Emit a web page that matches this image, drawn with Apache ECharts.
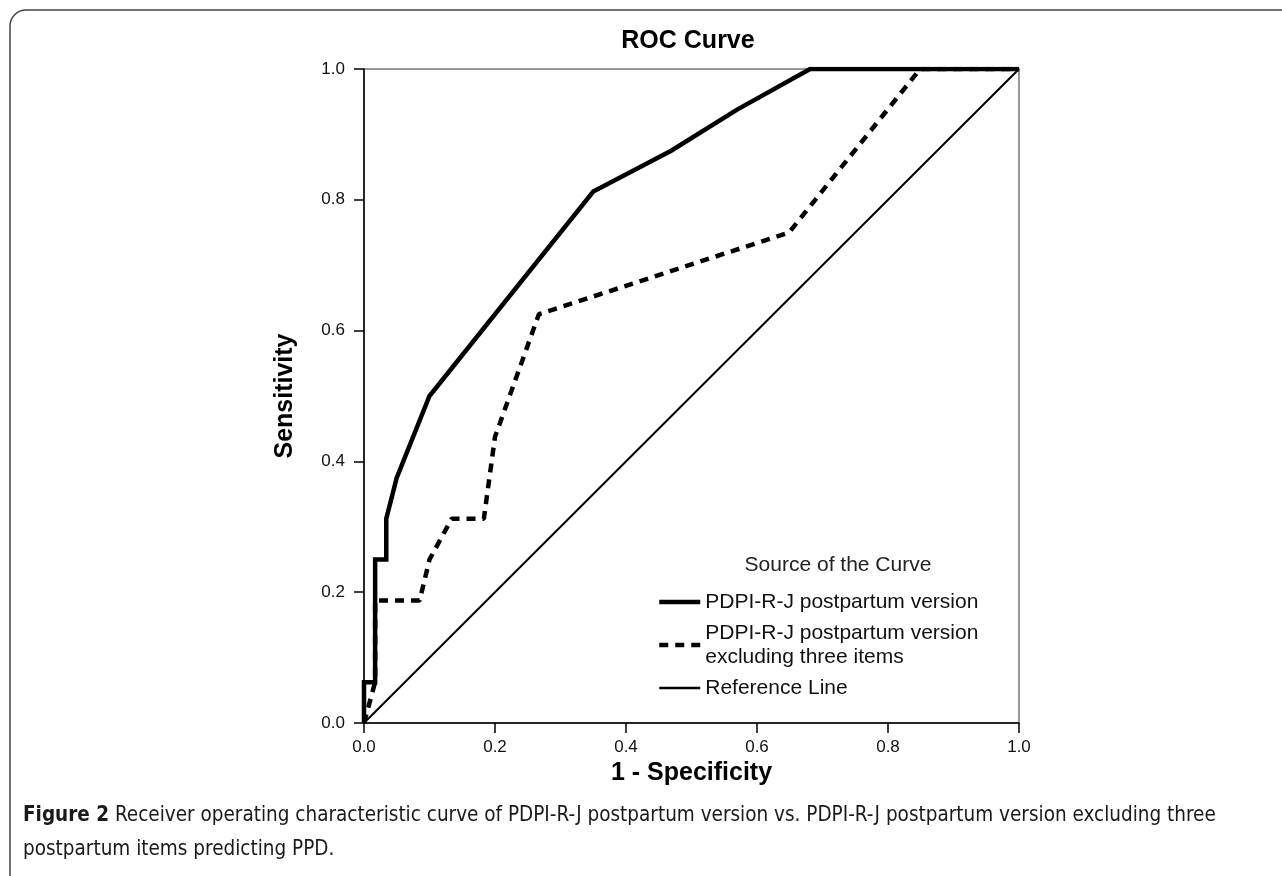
<!DOCTYPE html>
<html><head><meta charset="utf-8">
<script src="https://cdn.jsdelivr.net/npm/echarts@6/dist/echarts.min.js"></script>
<style>html,body{margin:0;padding:0;background:#fff}#c{width:1282px;height:876px}</style>
</head><body><div id="c"></div>
<script>
const xTicks = ['0.0','0.2','0.4','0.6','0.8','1.0'];
const seriesNames = ['PDPI-R-J postpartum version','PDPI-R-J postpartum version\nexcluding three items','Reference Line'];
const fullX = [0, 0, 0.017, 0.017, 0.034, 0.034, 0.05, 0.1, 0.35, 0.469, 0.569, 0.681, 1];
const fullY = [0, 0.0625, 0.0625, 0.25, 0.25, 0.3125, 0.375, 0.5, 0.8125, 0.875, 0.9375, 1, 1];
const exclX = [0, 0.017, 0.017, 0.085, 0.1, 0.134, 0.183, 0.2, 0.267, 0.649, 0.849, 1];
const exclY = [0, 0.0625, 0.1875, 0.1875, 0.25, 0.3125, 0.3125, 0.4375, 0.625, 0.75, 1, 1];
const refX = [0, 1];
const refY = [0, 1];

const zip = (a, b) => a.map((v, i) => [v, b[i]]);
const chart = echarts.init(document.getElementById('c'));
const F = 'Liberation Sans, Arial, sans-serif';
const CF = 'Liberation Sans Narrow, DejaVu Sans Condensed, Roboto Condensed, sans-serif';
chart.setOption({
  animation: false,
  backgroundColor: '#fff',
  title: [
    { text: 'ROC Curve', left: 683, top: 24, textAlign: 'center',
      textStyle: { fontFamily: F, fontSize: 25, fontWeight: 'bold', color: '#000' } },
    { text: 'Source of the Curve', left: 833, top: 550, textAlign: 'center',
      textStyle: { fontFamily: F, fontSize: 21, fontWeight: 'normal', color: '#222' } },
    { text: '{b|Figure 2} Receiver operating characteristic curve of PDPI-R-J postpartum version vs. PDPI-R-J postpartum version excluding three\npostpartum items predicting PPD.',
      left: 18, top: 794,
      textStyle: { fontFamily: CF, fontSize: 20.5, fontWeight: 'normal', lineHeight: 34, color: '#1a1a1a',
        rich: { b: { fontFamily: CF, fontSize: 20.5, fontWeight: 'bold', color: '#1a1a1a', lineHeight: 34 } } } }
  ],
  graphic: [
    { type: 'rect', shape: { x: 10, y: 10, width: 1320, height: 900, r: [16, 0, 0, 0] },
      style: { fill: 'none', stroke: '#444', lineWidth: 1.5 }, silent: true }
  ],
  legend: {
    orient: 'vertical', left: 652, top: 585, itemWidth: 41, itemHeight: 14, itemGap: 7,
    itemStyle: { opacity: 0 },
    data: [
      { name: seriesNames[0], lineStyle: { width: 4.5 } },
      { name: seriesNames[1], lineStyle: { width: 4.5 } },
      { name: seriesNames[2], lineStyle: { width: 2.5 } }
    ],
    textStyle: { fontFamily: F, fontSize: 21, color: '#111', lineHeight: 24 }
  },
  grid: { left: 364, right: 263, top: 69, bottom: 153, show: true, borderColor: '#777', borderWidth: 1.5 },
  xAxis: {
    type: 'value', min: 0, max: 1, interval: 0.2,
    name: '1 - Specificity', nameLocation: 'middle', nameGap: 36,
    nameTextStyle: { fontFamily: F, fontSize: 25, fontWeight: 'bold', color: '#000' },
    axisLine: { lineStyle: { color: '#000', width: 1.5 } },
    axisTick: { length: 10, lineStyle: { color: '#000', width: 1.5 } },
    axisLabel: { fontFamily: F, fontSize: 17, color: '#111', margin: 16, formatter: (v) => xTicks[Math.round(v * 5)] },
    splitLine: { show: false }
  },
  yAxis: {
    type: 'value', min: 0, max: 1, interval: 0.2,
    name: 'Sensitivity', nameLocation: 'middle', nameGap: 66, nameRotate: 90,
    nameTextStyle: { fontFamily: F, fontSize: 25, fontWeight: 'bold', color: '#000' },
    axisLine: { lineStyle: { color: '#000', width: 1.5 } },
    axisTick: { length: 10, lineStyle: { color: '#000', width: 1.5 } },
    axisLabel: { fontFamily: F, fontSize: 17, color: '#111', margin: 19, formatter: (v) => xTicks[Math.round(v * 5)] },
    splitLine: { show: false }
  },
  series: [
    { name: seriesNames[0], type: 'line', data: zip(fullX, fullY), symbol: 'none', z: 4,
      lineStyle: { color: '#000', width: 4.5, join: 'miter' }, itemStyle: { color: '#000' } },
    { name: seriesNames[1], type: 'line', data: zip(exclX, exclY), symbol: 'none', z: 3,
      lineStyle: { color: '#000', width: 4.5, type: [9, 7] }, itemStyle: { color: '#000' } },
    { name: seriesNames[2], type: 'line', data: zip(refX, refY), symbol: 'none', z: 2,
      lineStyle: { color: '#000', width: 2 }, itemStyle: { color: '#000' } }
  ]
});
</script></body></html>
